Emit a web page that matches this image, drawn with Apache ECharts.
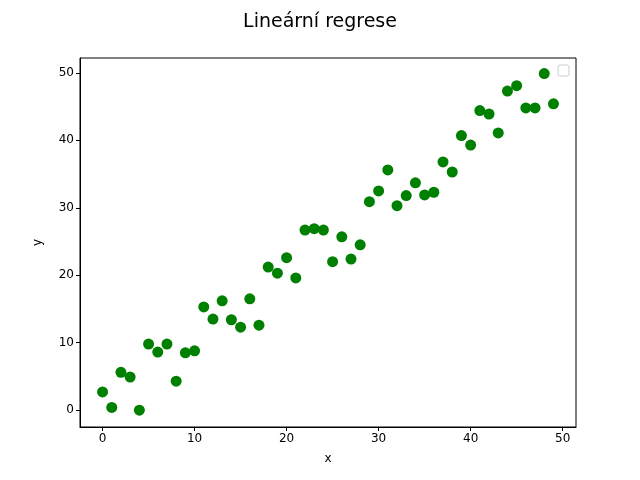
<!DOCTYPE html>
<html><head><meta charset="utf-8">
<script src="https://cdn.jsdelivr.net/npm/echarts@6/dist/echarts.min.js"></script>
<style>html,body{margin:0;padding:0;background:#fff}#c{width:640px;height:480px}</style>
</head><body><div id="c"></div>
<script>
const xs = [0,1,2,3,4,5,6,7,8,9,10,11,12,13,14,15,16,17,18,19,20,21,22,23,24,25,26,27,28,29,30,31,32,33,34,35,36,37,38,39,40,41,42,43,44,45,46,47,48,49];
const ys = [2.7,0.4,5.6,4.9,0.0,9.8,8.6,9.8,4.3,8.5,8.8,15.3,13.5,16.2,13.4,12.3,16.5,12.6,21.2,20.3,22.6,19.6,26.7,26.9,26.7,22.0,25.7,22.4,24.5,30.9,32.5,35.6,30.3,31.8,33.7,31.9,32.3,36.8,35.3,40.7,39.3,44.4,43.9,41.1,47.3,48.1,44.8,44.8,49.9,45.4];
const ticks = [0,10,20,30,40,50];
const chart = echarts.init(document.getElementById('c'));
const font = 'DejaVu Sans';
const axisCommon = {
  axisLine:{show:true,onZero:false,lineStyle:{color:'#000',width:1}},
  axisTick:{show:true,inside:false,length:4,customValues:ticks,lineStyle:{color:'#000'}},
  axisLabel:{customValues:ticks,color:'#000',fontFamily:font,fontSize:12,margin:6},
  splitLine:{show:false},
  nameTextStyle:{color:'#000',fontFamily:font,fontSize:12}
};
chart.setOption({
  animation:false,
  title:{text:'Lineární regrese',left:'center',top:8,textStyle:{fontFamily:font,fontSize:19,fontWeight:'normal',color:'#000'}},
  grid:{left:80,right:64,top:58,bottom:53,show:true,borderColor:'#000',borderWidth:1},
  xAxis:Object.assign({type:'value',min:-2.45,max:51.45,name:'x',nameLocation:'middle',nameGap:26},axisCommon),
  yAxis:Object.assign({type:'value',min:-2.5,max:52.2,name:'y',nameLocation:'middle',nameGap:36},axisCommon),
  graphic:[{type:'rect',shape:{x:558,y:65,width:11,height:11,r:2},style:{fill:'#fff',stroke:'#ccc',lineWidth:1}}],
  series:[{type:'scatter',symbolSize:11,itemStyle:{color:'#008000',opacity:1},data:xs.map((x,i)=>[x,ys[i]])}]
});
</script></body></html>
